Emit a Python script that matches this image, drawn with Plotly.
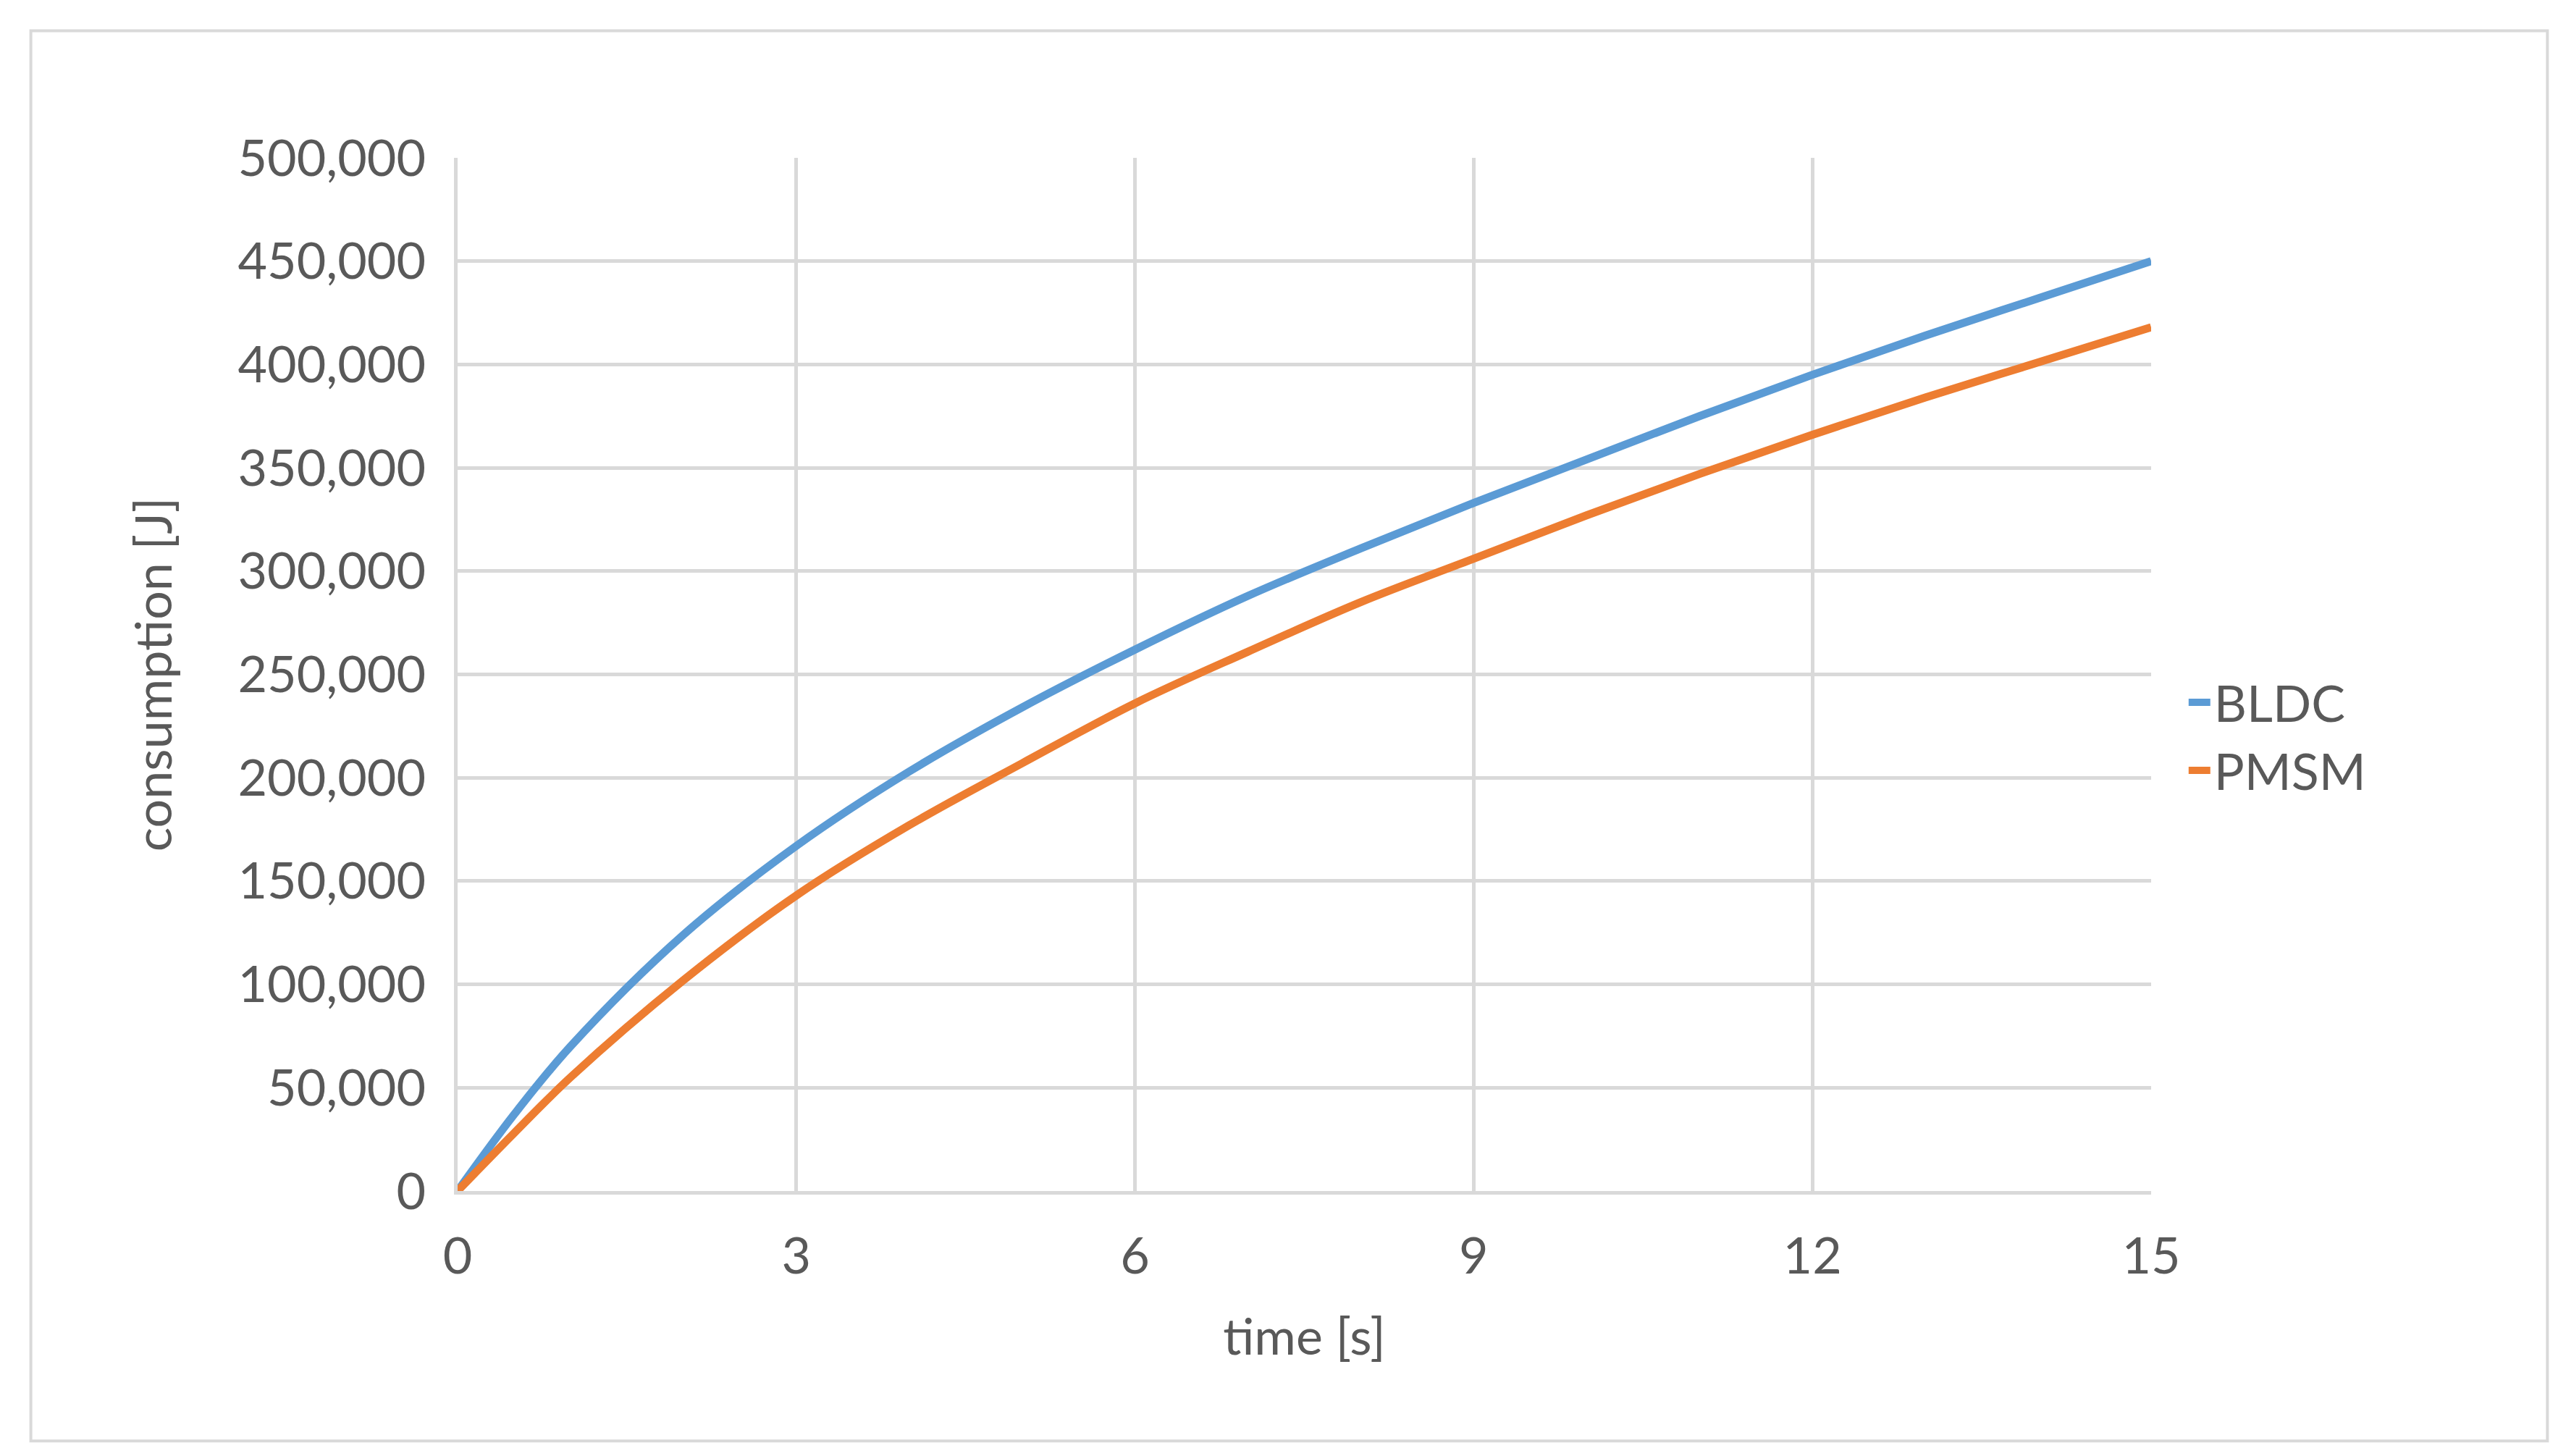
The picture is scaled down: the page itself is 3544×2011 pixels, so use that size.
import plotly.graph_objects as go

# values
time_s = [0, 0.5, 1, 2, 3, 4, 5, 6, 7, 8, 9, 10, 11, 12, 13, 14, 15]
bldc_j = [0, 37000, 70000, 124000, 167000, 203000, 234000, 262000, 288000, 311000,
          333000, 354000, 375000, 395000, 414000, 432000, 450000]
pmsm_j = [0, 28000, 55000, 102000, 143000, 177000, 207000, 236000, 261000, 285000,
          306000, 327000, 347000, 366000, 384000, 401000, 418000]

grey = "#595959"
font = dict(family="Lato, Open Sans, sans-serif", size=70, color=grey)

fig = go.Figure()
fig.add_scatter(x=time_s, y=bldc_j, name="BLDC", mode="lines",
                line=dict(color="#5B9BD5", width=11, shape="spline"))
fig.add_scatter(x=time_s, y=pmsm_j, name="PMSM", mode="lines",
                line=dict(color="#ED7D31", width=11, shape="spline"))

fig.update_layout(
    width=3544, height=2011,
    margin=dict(l=624, r=581, t=210, b=374),
    paper_bgcolor="white", plot_bgcolor="white",
    font=font,
    legend=dict(x=1.02, y=0.44, yanchor="middle", font=font,
                tracegroupgap=50),
    shapes=[dict(type="rect", xref="paper", yref="paper",
                 x0=-0.252, x1=1.234, y0=-0.242, y1=1.123,
                 line=dict(color="#D9D9D9", width=4))],
)
fig.update_xaxes(range=[0, 15], tickvals=[0, 3, 6, 9, 12, 15],
                 showgrid=True, gridcolor="#D9D9D9", gridwidth=5,
                 showline=True, linecolor="#D9D9D9", linewidth=5,
                 zeroline=False, ticks="", ticklabelstandoff=25,
                 title=dict(text="time [s]", font=font, standoff=50))
fig.update_yaxes(range=[0, 500000], dtick=50000, tickformat=",",
                 showgrid=True, gridcolor="#D9D9D9", gridwidth=5,
                 showline=True, linecolor="#D9D9D9", linewidth=5,
                 zeroline=False, ticks="", ticklabelstandoff=25,
                 title=dict(text="consumption [J]", font=font, standoff=70))

fig.write_html("out.html")
